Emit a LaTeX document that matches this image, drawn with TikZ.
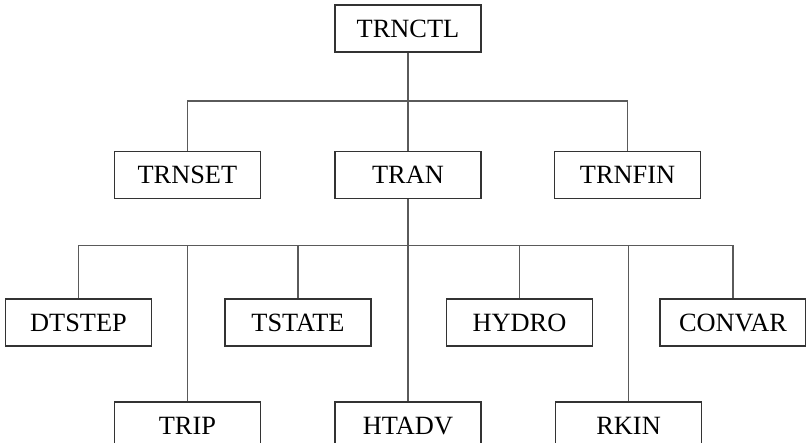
\documentclass[tikz,border=0pt]{standalone}
\usepackage{fontspec}
\setmainfont{Liberation Serif}
\usetikzlibrary{positioning, calc}
\definecolor{boxline}{HTML}{333333}
\definecolor{linkgray}{HTML}{5A5A5A}

\begin{document}
\begin{tikzpicture}[
    % ── Node styles ──────────────────────────────────────────────────────
    modbox/.style={
        draw=boxline, fill=white, line width=0.9pt,
        minimum width=2.92cm, minimum height=0.94cm,
        font=\fontsize{15}{18}\selectfont, inner sep=0pt,
        align=center
    },
    % ── Connector style ──────────────────────────────────────────────────
    link/.style={
        draw=linkgray, line width=0.85pt
    }
]

% Fixed frame (same proportions as the reference)
\useasboundingbox (-8.16cm,0.57cm) rectangle (7.96cm,-8.29cm);

% ═══════════════════════════════════════════════════════════════════════════
% 1. Root
% ═══════════════════════════════════════════════════════════════════════════
\node[modbox] (trnctl) at (0,0) {TRNCTL};

% ═══════════════════════════════════════════════════════════════════════════
% 2. First level
% ═══════════════════════════════════════════════════════════════════════════
\node[modbox, below=1.96cm of trnctl] (tran) {TRAN};
\node[modbox, left=1.46cm of tran] (trnset) {TRNSET};
\node[modbox, right=1.44cm of tran] (trnfin) {TRNFIN};

% ═══════════════════════════════════════════════════════════════════════════
% 3. Second level (two rows)
% ═══════════════════════════════════════════════════════════════════════════
\node[modbox, below=1.98cm of tran, xshift=-6.59cm] (dtstep) {DTSTEP};
\node[modbox, below=1.98cm of tran, xshift=-2.20cm] (tstate) {TSTATE};
\node[modbox, below=1.98cm of tran, xshift=2.23cm] (hydro) {HYDRO};
\node[modbox, below=1.98cm of tran, xshift=6.50cm] (convar) {CONVAR};

\node[modbox, below=4.04cm of trnset] (trip) {TRIP};
\node[modbox, below=4.04cm of tran] (htadv) {HTADV};
\node[modbox, below=4.04cm of trnfin, xshift=0.02cm] (rkin) {RKIN};

% ═══════════════════════════════════════════════════════════════════════════
% Connectors
% ═══════════════════════════════════════════════════════════════════════════
\coordinate (busA) at ($(trnctl.south)+(0,-0.96cm)$);
\coordinate (busB) at ($(tran.south)+(0,-0.92cm)$);

% root -> first level
\draw[link] (trnctl.south) -- (tran.north);
\draw[link] (trnset.north) |- (busA) -| (trnfin.north);

% TRAN -> second level
\draw[link] (tran.south) -- (htadv.north);
\draw[link] (dtstep.north) |- (busB) -| (convar.north);
\draw[link] (tstate.north) -- (tstate.north |- busB);
\draw[link] (hydro.north)  -- (hydro.north |- busB);
\draw[link] (trip.north)   -- (trip.north |- busB);
\draw[link] (rkin.north)   -- (rkin.north |- busB);

\end{tikzpicture}
\end{document}
